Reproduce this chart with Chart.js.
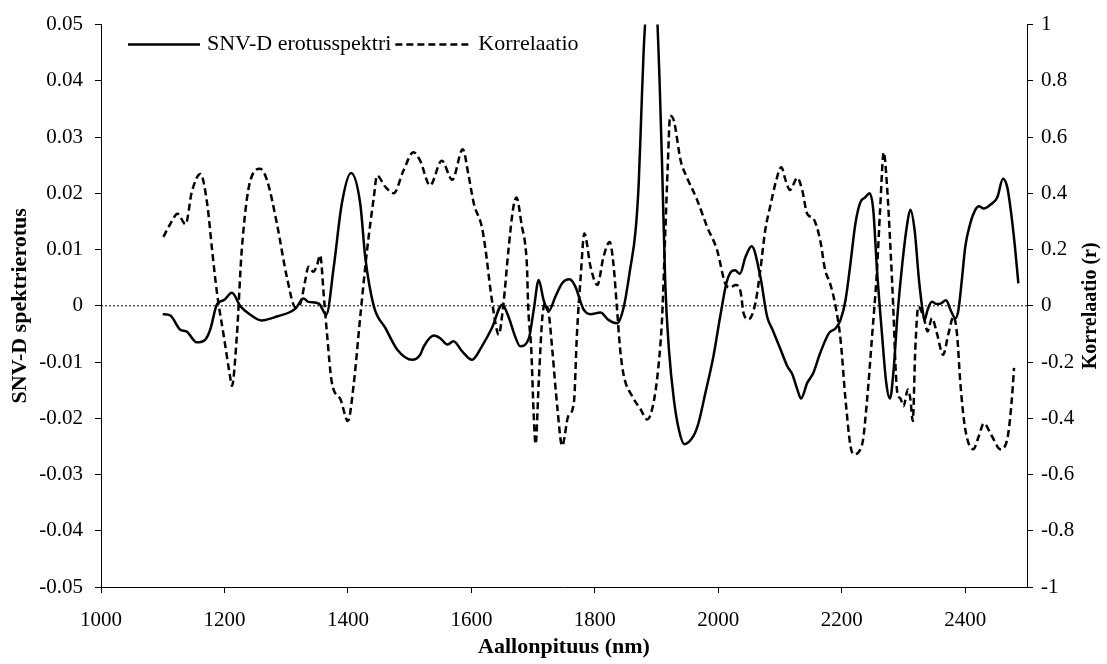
<!DOCTYPE html>
<html>
<head>
<meta charset="utf-8">
<script src="https://cdn.jsdelivr.net/npm/chart.js@4.4.0/dist/chart.umd.min.js"></script>
<style>
  html, body { margin: 0; padding: 0; background: #fff; }
  #wrap { width: 1107px; height: 664px; }
</style>
</head>
<body>
<div id="wrap"><canvas id="chart" width="1107" height="664"></canvas></div>
<script>
// ---- data ----
const snvWl = [1100,1112,1128,1139,1155,1169,1177,1188,1199,1212,1226,1242,1260,1285,1315,1328,1336,1353,1365,1377,
  1390,1405,1420,1428,1442,1461,1480,1504,1517,1523,1539,1550,1561,1571,1585,1601,1617,1633,1650,1660,
  1671,1679,1693,1701,1709,1717,1725,1736,1747,1759,1768,1782,1793,1809,1822,1836,1847,1857,1866,1871,
  1875,1879,1885,1892,1899,1905,1909,1914,1920,1928,1936,1945,1960,1968,1979,1992,2003,2013,2019,2027,
  2035,2044,2054,2068,2079,2088,2101,2112,2120,2128,2134,2144,2154,2165,2179,2190,2198,2206,2214,2222,
  2230,2238,2245,2251,2257,2265,2272,2278,2284,2290,2298,2306,2311,2318,2325,2330,2334,2339,2346,2354,
  2360,2369,2376,2384,2389,2395,2400,2408,2416,2422,2430,2441,2452,2461,2468,2473,2480,2486];
const snvVal = [-0.0015,-0.0017,-0.0042,-0.0046,-0.0065,-0.006,-0.0042,0.0003,0.001,0.0023,-0.0001,-0.0016,-0.0026,-0.0019,-0.0005,0.0013,0.0007,0.0004,-0.0016,0.0069,
  0.0181,0.0236,0.0181,0.0087,-0.0001,-0.004,-0.0078,-0.0096,-0.0087,-0.0072,-0.0053,-0.0058,-0.0069,-0.0063,-0.0081,-0.0096,-0.0072,-0.004,0.0002,-0.0019,
  -0.0055,-0.0072,-0.0058,-0.0007,0.0046,0.001,-0.001,0.0016,0.004,0.0047,0.0035,-0.0007,-0.0015,-0.0012,-0.0025,-0.0031,-0.0001,0.0064,0.0134,0.0217,
  0.0335,0.0453,0.056,0.064,0.056,0.0394,0.0246,0.004,-0.0078,-0.0167,-0.022,-0.0246,-0.0231,-0.0208,-0.0155,-0.009,-0.0019,0.004,0.0058,0.0063,
  0.0057,0.0087,0.0106,0.0052,-0.0019,-0.0043,-0.0078,-0.0108,-0.0122,-0.0149,-0.0165,-0.0137,-0.0119,-0.0084,-0.0049,-0.004,-0.0025,0.001,0.0075,0.0146,
  0.0184,0.0193,0.02,0.017,0.0064,-0.0049,-0.0137,-0.0165,-0.0113,-0.0019,0.0075,0.0146,0.0171,0.0134,0.0046,-0.0001,-0.0025,-0.0007,0.0007,0.0003,
  0.0004,0.001,-0.0007,-0.0022,-0.0007,0.0052,0.0105,0.0146,0.017,0.0177,0.0173,0.018,0.0193,0.0226,0.0211,0.0176,0.011,0.004];

const korWl = [1101,1112,1124,1137,1147,1161,1172,1180,1188,1199,1209,1212,1220,1228,1242,1258,1269,1285,1301,1315,
  1323,1331,1336,1344,1350,1355,1361,1366,1374,1388,1400,1409,1420,1431,1442,1447,1461,1474,1490,1506,
  1517,1533,1552,1569,1586,1595,1604,1617,1623,1631,1639,1644,1652,1660,1668,1673,1682,1687,1690,1692,
  1697,1701,1704,1709,1715,1720,1726,1731,1739,1747,1757,1766,1771,1777,1783,1793,1804,1814,1824,1830,
  1836,1841,1847,1860,1874,1885,1895,1903,1909,1914,1918,1922,1928,1939,1949,1965,1982,1998,2011,2019,
  2028,2036,2041,2049,2060,2068,2076,2085,2093,2102,2109,2116,2128,2136,2144,2154,2165,2173,2181,2190,
  2198,2206,2214,2219,2233,2241,2249,2257,2262,2268,2273,2279,2284,2287,2290,2295,2300,2307,2311,2315,
  2319,2324,2333,2339,2346,2354,2364,2373,2381,2387,2392,2400,2413,2422,2430,2443,2457,2468,2473,2477,2479];
const korVal = [0.245,0.29,0.327,0.29,0.404,0.469,0.363,0.198,0.044,-0.109,-0.25,-0.285,-0.109,0.198,0.446,0.487,0.446,0.292,0.103,-0.005,
  0.009,0.092,0.139,0.121,0.145,0.18,0.033,-0.097,-0.274,-0.333,-0.41,-0.286,-0.038,0.198,0.387,0.463,0.422,0.40,0.481,0.546,
  0.516,0.428,0.516,0.448,0.557,0.469,0.363,0.28,0.198,0.056,-0.062,-0.103,0.009,0.198,0.351,0.385,0.28,0.221,0.139,-0.003,
  -0.156,-0.392,-0.492,-0.274,-0.038,0.009,-0.04,-0.156,-0.357,-0.498,-0.392,-0.345,-0.1,0.103,0.257,0.139,0.074,0.174,0.227,0.15,
  -0.015,-0.156,-0.25,-0.32,-0.368,-0.404,-0.345,-0.215,-0.038,0.257,0.493,0.676,0.658,0.516,0.457,0.38,0.28,0.198,0.08,0.065,
  0.074,0.05,-0.027,-0.048,0.009,0.127,0.269,0.363,0.44,0.493,0.446,0.412,0.455,0.41,0.327,0.31,0.233,0.127,0.08,-0.003,
  -0.121,-0.333,-0.498,-0.528,-0.492,-0.333,-0.109,0.127,0.34,0.546,0.434,0.198,-0.04,-0.215,-0.31,-0.33,-0.357,-0.298,-0.33,-0.41,
  -0.156,-0.003,-0.044,-0.091,-0.044,-0.097,-0.174,-0.097,-0.038,-0.109,-0.274,-0.439,-0.51,-0.463,-0.418,-0.463,-0.51,-0.475,-0.392,-0.286,-0.221];

const zeroWl = [1000, 2500];
const zeroVal = [0, 0];

const xTicks = [1000, 1200, 1400, 1600, 1800, 2000, 2200, 2400];
const leftTicks = [-0.05, -0.04, -0.03, -0.02, -0.01, 0, 0.01, 0.02, 0.03, 0.04, 0.05];
const rightTicks = [-1, -0.8, -0.6, -0.4, -0.2, 0, 0.2, 0.4, 0.6, 0.8, 1];

const labelSnv = 'SNV-D erotusspektri';
const labelKor = 'Korrelaatio';

// ---- looks ----
const SERIF = '"Liberation Serif", "Times New Roman", serif';
const KOR_DASH = [7, 4];
Chart.defaults.font.family = SERIF;
Chart.defaults.color = '#000';

function pts(xs, ys) {
    return xs.map((x, i) => ({ x: x, y: ys[i] }));
}

// legend sits inside the plot, top left, like the original
const legendInside = {
    id: 'legendInside',
    afterDraw(chart) {
        const c = chart.ctx;
        const a = chart.chartArea;
        const y = a.top + 20;
        let x = a.left + 27;
        c.save();
        c.font = '22px ' + SERIF;
        c.fillStyle = '#000';
        c.strokeStyle = '#000';
        c.lineWidth = 2.5;
        c.textBaseline = 'middle';

        c.beginPath(); c.moveTo(x, y); c.lineTo(x + 72, y); c.stroke();
        x += 79;
        c.fillText(labelSnv, x, y);
        x += c.measureText(labelSnv).width + 4;

        c.setLineDash(KOR_DASH);
        c.beginPath(); c.moveTo(x, y); c.lineTo(x + 77, y); c.stroke();
        c.setLineDash([]);
        x += 83;
        c.fillText(labelKor, x, y);
        c.restore();
    }
};

// right axis title, read bottom to top like the left one
const rightTitle = {
    id: 'rightTitle',
    afterDraw(chart) {
        const c = chart.ctx;
        const a = chart.chartArea;
        c.save();
        c.translate(1091, (a.top + a.bottom) / 2);
        c.rotate(-Math.PI / 2);
        c.font = 'bold 20px ' + SERIF;
        c.fillStyle = '#000';
        c.textAlign = 'center';
        c.textBaseline = 'middle';
        c.fillText('Korrelaatio (r)', 0, 0);
        c.restore();
    }
};

const axisGrid = { drawOnChartArea: false, drawTicks: true, tickLength: 6, color: '#000', lineWidth: 1 };

new Chart(document.getElementById('chart'), {
    type: 'line',
    data: {
        datasets: [
            {
                label: labelSnv,
                data: pts(snvWl, snvVal),
                yAxisID: 'y',
                borderColor: '#000',
                borderWidth: 2.5,
                pointRadius: 0,
                cubicInterpolationMode: 'monotone'
            },
            {
                label: labelKor,
                data: pts(korWl, korVal),
                yAxisID: 'y1',
                borderColor: '#000',
                borderWidth: 2.5,
                borderDash: KOR_DASH,
                pointRadius: 0,
                cubicInterpolationMode: 'monotone'
            },
            {
                label: 'zero',
                data: pts(zeroWl, zeroVal),
                yAxisID: 'y',
                borderColor: '#000',
                borderWidth: 1,
                borderDash: [2, 2],
                pointRadius: 0
            }
        ]
    },
    options: {
        responsive: false,
        animation: false,
        layout: { padding: { top: 22, left: 0, right: 0, bottom: 0 } },
        plugins: { legend: { display: false }, tooltip: { enabled: false } },
        scales: {
            x: {
                type: 'linear',
                min: 1000,
                max: 2500,
                afterBuildTicks: s => { s.ticks = xTicks.map(v => ({ value: v })); },
                afterFit: s => { s.height = 77; },
                grid: axisGrid,
                border: { color: '#000', width: 1 },
                ticks: { font: { size: 21 }, padding: 15, maxRotation: 0, callback: v => String(v) },
                title: { display: true, text: 'Aallonpituus (nm)', font: { size: 22, weight: 'bold' }, padding: { top: 0, bottom: 3 } }
            },
            y: {
                position: 'left',
                min: -0.05,
                max: 0.05,
                afterBuildTicks: s => { s.ticks = leftTicks.map(v => ({ value: v })); },
                afterFit: s => { s.width = 101; },
                grid: axisGrid,
                border: { color: '#000', width: 1 },
                ticks: { font: { size: 21 }, padding: 12, callback: v => String(Math.round(v * 100) / 100) },
                title: { display: true, text: 'SNV-D spektrierotus', font: { size: 22, weight: 'bold' }, padding: { top: 7, bottom: 0 } }
            },
            y1: {
                position: 'right',
                min: -1,
                max: 1,
                afterBuildTicks: s => { s.ticks = rightTicks.map(v => ({ value: v })); },
                afterFit: s => { s.width = 80; },
                grid: axisGrid,
                border: { color: '#000', width: 1 },
                ticks: { font: { size: 21 }, padding: 8, callback: v => String(Math.round(v * 10) / 10) }
            }
        }
    },
    plugins: [legendInside, rightTitle]
});
</script>
</body>
</html>
